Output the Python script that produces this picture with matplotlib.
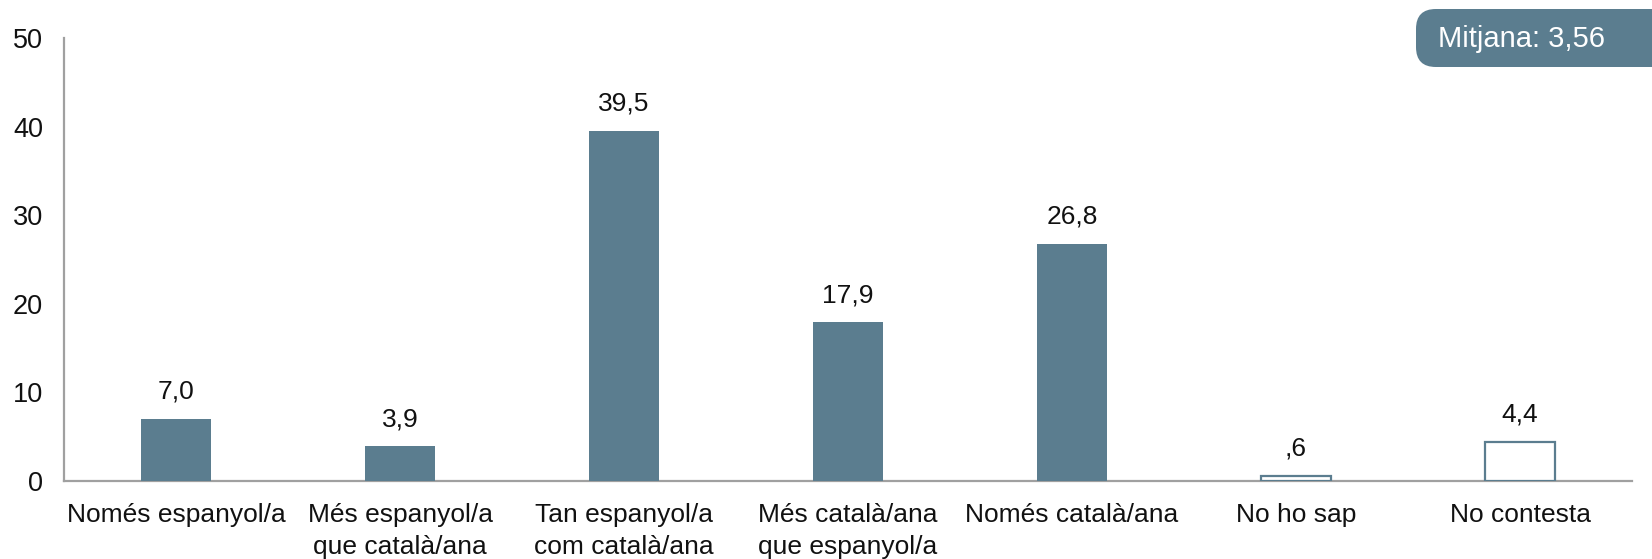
import matplotlib
matplotlib.use("Agg")
import matplotlib.pyplot as plt
from matplotlib.patches import FancyBboxPatch

plt.rcParams['font.family'] = ['Liberation Sans', 'DejaVu Sans']

categories = ["Només espanyol/a", "Més espanyol/a\nque català/ana", "Tan espanyol/a\ncom català/ana",
              "Més català/ana\nque espanyol/a", "Només català/ana", "No ho sap", "No contesta"]
values = [7.0, 3.9, 39.5, 17.9, 26.8, 0.6, 4.4]
labels = ["7,0", "3,9", "39,5", "17,9", "26,8", ",6", "4,4"]
hollow = [False, False, False, False, False, True, True]
yticks = [0, 10, 20, 30, 40, 50]
mean_text = "Mitjana: 3,56"

color = "#5b7d8f"
W, H = 1652, 559
fig = plt.figure(figsize=(W/100, H/100), dpi=100)
ax_left, ax_right, ax_bottom, ax_top = 64, 1632, 481, 38
ax = fig.add_axes([ax_left/W, 1 - ax_bottom/H, (ax_right-ax_left)/W, (ax_bottom-ax_top)/H])

x = list(range(len(categories)))
for xi, v, h in zip(x, values, hollow):
    if h:
        ax.bar(xi, v, width=0.31, facecolor="white", edgecolor=color, linewidth=1.6, zorder=3)
    else:
        ax.bar(xi, v, width=0.31, color=color, zorder=3)
for xi, v, lab in zip(x, values, labels):
    ax.annotate(lab, (xi, v), xytext=(0, 11), textcoords="offset points",
                ha="center", va="bottom", fontsize=19, color="#111111")

ax.set_xlim(-0.5, len(categories) - 0.5)
ax.set_ylim(0, 50)
ax.set_yticks(yticks)
ax.set_yticklabels([str(t) for t in yticks], fontsize=19.5)
ax.set_xticks(x)
ax.set_xticklabels(categories, fontsize=19, linespacing=1.4)
ax.tick_params(axis='both', length=0, colors="#111111")
ax.tick_params(axis='y', pad=15)
ax.tick_params(axis='x', pad=16)
for s in ["top", "right"]:
    ax.spines[s].set_visible(False)
for s in ["left", "bottom"]:
    ax.spines[s].set_color("#a0a0a0")
    ax.spines[s].set_linewidth(1.6)

# Mean box
bx0, by0, bx1, by1 = 1416, 9, 1680, 67
box = FancyBboxPatch((bx0/W, 1 - by1/H), (bx1-bx0)/W, (by1-by0)/H,
                     boxstyle="round,pad=0,rounding_size=0.012", transform=fig.transFigure,
                     facecolor=color, edgecolor="none", mutation_aspect=W/H)
fig.patches.append(box)
fig.text(1438/W, 1 - 39/H, mean_text, color="white", fontsize=21, ha="left", va="center")

fig.savefig("out.png", dpi=100)
